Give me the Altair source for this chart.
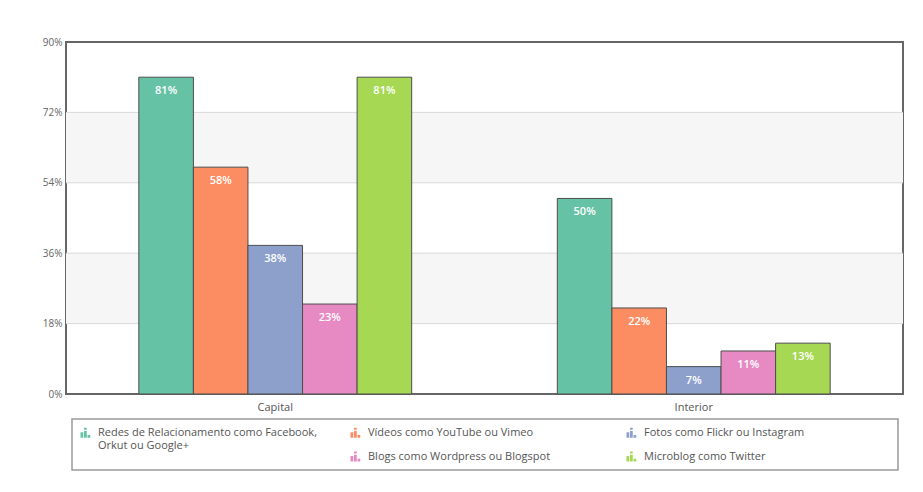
import altair as alt
import pandas as pd

# ---- data ----
groups = ["Capital", "Interior"]
series = [
    "Redes de Relacionamento como Facebook, Orkut ou Google+",
    "Vídeos como YouTube ou Vimeo",
    "Fotos como Flickr ou Instagram",
    "Blogs como Wordpress ou Blogspot",
    "Microblog como Twitter",
]
capital = [81, 58, 38, 23, 81]
interior = [50, 22, 7, 11, 13]
colors = ["#66c2a5", "#fc8d62", "#8da0cb", "#e78ac3", "#a6d854"]
y_ticks = [0, 18, 36, 54, 72, 90]
grid_vals = [18, 36, 54, 72]
band_lo = [18, 54]
band_hi = [36, 72]

rows = []
for g, vals in zip(groups, [capital, interior]):
    for s, v in zip(series, vals):
        rows.append({"grupo": g, "serie": s, "valor": v, "rotulo": f"{v}%"})
df = pd.DataFrame(rows)
bands = pd.DataFrame({"lo": band_lo, "hi": band_hi})
grid = pd.DataFrame({"v": grid_vals})

FONT = "Open Sans"

# legend is filled column by column; a blank slot keeps column 1 for the two-line entry
blank = " "
order = [0, None, 1, 3, 2, 4]
legend_domain = [series[i] if i is not None else blank for i in order]
legend_range = [colors[i] if i is not None else "transparent" for i in order]

icon = "M-1,1V-0.1H-0.45V1Z M-0.3,1V-0.35H0.25V1Z M-0.3,-0.6V-1H0.25V-0.6Z M0.4,1V0.45H0.95V1Z"

yscale = alt.Scale(domain=[0, 90], nice=False, zero=True)

band_layer = alt.Chart(bands).mark_rect(color="#f6f6f6").encode(
    y=alt.Y("lo:Q", scale=yscale),
    y2="hi:Q",
    x=alt.value(0),
    x2=alt.value("width"),
)

grid_layer = alt.Chart(grid).mark_rule(color="#d9d9d9", strokeWidth=1).encode(
    y=alt.Y("v:Q", scale=yscale),
)

xenc = alt.X(
    "grupo:N",
    sort=groups,
    scale=alt.Scale(paddingInner=0.348, paddingOuter=0.174),
    axis=alt.Axis(
        title=None, labelAngle=0, ticks=False, domain=False,
        labelFontSize=11, labelColor="#555555", labelPadding=7, labelFont=FONT,
    ),
)
xoff = alt.XOffset("serie:N", sort=series, scale=alt.Scale(paddingInner=0, paddingOuter=0))

# invisible trailing room so the legend columns spread like the original
pad2 = "\u00a0" * 15 + "\u200b"
pad3 = "\u00a0" * 30 + "\u200b"
label_expr = (
    f"datum.label == '{series[0]}' ? ['Redes de Relacionamento como Facebook,', 'Orkut ou Google+'] : "
    f"datum.label == '{series[1]}' ? [datum.label, ''] : "
    f"datum.label == '{series[2]}' ? [datum.label + '{pad3}', ''] : "
    f"datum.label == '{series[3]}' ? datum.label + '{pad2}' : datum.label"
)

bars = alt.Chart(df).mark_bar(stroke="#4d4d4d", strokeWidth=1).encode(
    x=xenc,
    xOffset=xoff,
    y=alt.Y(
        "valor:Q",
        scale=yscale,
        axis=alt.Axis(
            title=None, values=y_ticks, labelExpr="datum.value + '%'",
            grid=False, ticks=False, domain=False, labelFontSize=10,
            labelColor="#666666", labelPadding=4, labelFont=FONT,
        ),
    ),
    color=alt.Color(
        "serie:N",
        scale=alt.Scale(domain=legend_domain, range=legend_range),
        legend=alt.Legend(
            title=None,
            orient="none",
            legendX=6,
            legendY=377,
            columns=3,
            symbolType=icon,
            symbolSize=100,
            symbolStrokeWidth=0,
            symbolOpacity=1,
            labelFont=FONT,
            labelFontSize=11,
            labelColor="#555555",
            labelLimit=600,
            labelOffset=7,
            labelExpr=label_expr,
            columnPadding=33,
            rowPadding=-9,
            padding=8,
            gridAlign="each",
            strokeColor="#9a9a9a",
            fillColor="#ffffff",
        ),
    ),
)

labels = alt.Chart(df).mark_text(
    baseline="top", dy=8, color="white", fontWeight=600, fontSize=11, font=FONT,
).encode(
    x=xenc,
    xOffset=xoff,
    y=alt.Y("valor:Q", scale=yscale),
    text="rotulo:N",
)

chart = alt.layer(band_layer, grid_layer, bars, labels).properties(
    width=837,
    height=352,
    autosize=alt.AutoSizeParams(type="none"),
    padding={"left": 66, "top": 42, "right": 20, "bottom": 98},
    background="white",
).configure_view(
    stroke="#666666", strokeWidth=2,
).configure_legend(
    strokeWidth=1.5,
)

chart.save("out.html", embed_options={"renderer": "svg", "actions": False})
